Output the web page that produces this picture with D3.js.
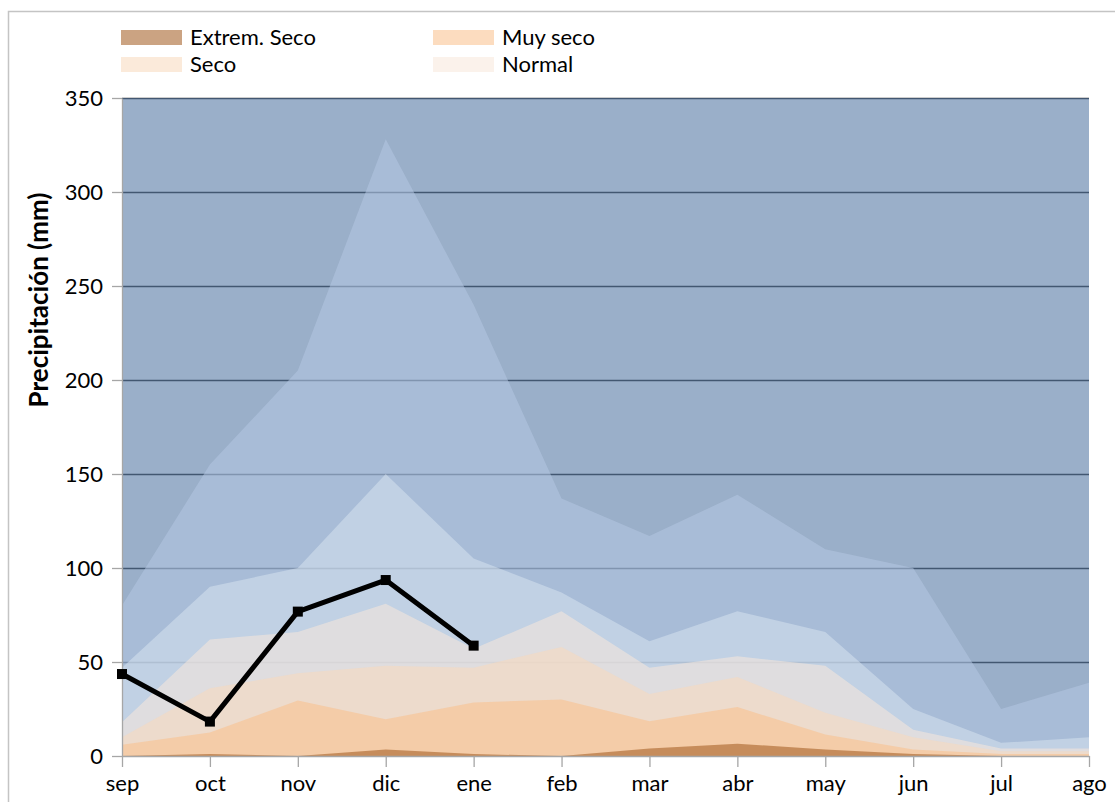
<!DOCTYPE html>
<html>
<head>
  <meta charset="utf-8">
  <title>Precipitación mensual</title>
  <script src="https://d3js.org/d3.v7.min.js"></script>
  <style>
    body { margin: 0; background: #fff; }
    text { font-family: Lato, "Open Sans", sans-serif; fill: #000; }
  </style>
</head>
<body>
  <svg id="chart"></svg>

  <script>
    // meses
    const months = ["sep", "oct", "nov", "dic", "ene", "feb", "mar", "abr", "may", "jun", "jul", "ago"];

    // límites superiores de cada categoría (mm)
    const extremHumedo = [350, 350, 350, 350, 350, 350, 350, 350, 350, 350, 350, 350];
    const muyHumedo    = [80, 155, 205, 328, 240, 137, 117, 139, 110, 100, 25, 39];
    const humedo       = [47, 90, 100, 150, 105, 87, 61, 77, 66, 25, 7, 10];
    const normal       = [18, 62, 66, 81, 57, 77, 47, 53, 48, 14, 4, 4];
    const seco         = [10, 36, 44, 48, 47, 58, 33, 42, 23, 10, 2.5, 2.5];
    const muySeco      = [6, 12.5, 29.5, 19.5, 28.5, 30, 18.5, 26, 11.5, 3.5, 1, 1];
    const extremSeco   = [0, 1, 0, 3.5, 1, 0, 4, 6.5, 3.5, 1, 0, 0];

    // precipitación observada
    const observada = [43.6, 18.3, 76.8, 93.6, 58.7];

    const yTicks = [0, 50, 100, 150, 200, 250, 300, 350];

    const legendItems = [
      { name: "Extrem. Seco", layer: 6 },
      { name: "Muy seco", layer: 5 },
      { name: "Seco", layer: 4 },
      { name: "Normal", layer: 3 }
    ];

    const layers = [extremHumedo, muyHumedo, humedo, normal, seco, muySeco, extremSeco];

    // colores aparentes de cada franja; las capas son semitransparentes
    const alpha = 0.55;
    const bandColors = ["#9aafc9", "#a9bcd6", "#c2d1e4", "#dfdddf", "#ecdacb", "#f3cba8", "#c68b5b"];
    let prev = d3.rgb("#ffffff");
    const fills = bandColors.map(c => {
      const t = d3.rgb(c);
      const f = ch => Math.max(0, Math.min(255, Math.round((t[ch] - (1 - alpha) * prev[ch]) / alpha)));
      const out = d3.rgb(f("r"), f("g"), f("b"));
      prev = t;
      return out.formatHex();
    });

    const width = 1115, height = 802;
    const plotLeft = 122, plotRight = 1089, plotTop = 98, plotBottom = 756;

    const svg = d3.select("#chart")
                  .attr("width", width)
                  .attr("height", height);

    svg.append("rect")
       .attr("width", width).attr("height", height)
       .attr("fill", "#fff");

    // borde del gráfico
    svg.append("rect")
       .attr("x", 8.5).attr("y", 11.5)
       .attr("width", width + 20).attr("height", height + 20)
       .attr("fill", "none")
       .attr("stroke", "#c4c4c4")
       .attr("stroke-width", 1.5);

    const x = d3.scalePoint().domain(months).range([plotLeft, plotRight]);
    const y = d3.scaleLinear().domain([0, 350]).range([plotBottom, plotTop]);

    // líneas de cuadrícula (debajo de las áreas)
    svg.append("g")
       .selectAll("line")
       .data(yTicks.filter(d => d > 0))
       .enter()
       .append("line")
       .attr("x1", plotLeft).attr("x2", plotRight)
       .attr("y1", d => Math.round(y(d)) + 0.5)
       .attr("y2", d => Math.round(y(d)) + 0.5)
       .attr("stroke", "#3c3c3c")
       .attr("stroke-width", 1.3);

    // áreas
    const area = d3.area()
                   .x((d, i) => x(months[i]))
                   .y0(y(0))
                   .y1(d => y(d));

    svg.append("g")
       .selectAll("path")
       .data(layers)
       .enter()
       .append("path")
       .attr("d", area)
       .attr("fill", (d, i) => fills[i])
       .attr("fill-opacity", alpha);

    // ejes
    const yAxis = svg.append("g")
                     .attr("transform", `translate(${plotLeft},0)`)
                     .call(d3.axisLeft(y).tickValues(yTicks).tickSize(10).tickSizeOuter(0).tickPadding(9));
    const xAxis = svg.append("g")
                     .attr("transform", `translate(0,${plotBottom})`)
                     .call(d3.axisBottom(x).tickSize(11).tickSizeOuter(0).tickPadding(8));

    [yAxis, xAxis].forEach(ax => {
      ax.selectAll("path, line").attr("stroke", "#a6a6a6").attr("stroke-width", 1.3);
      ax.selectAll("text").style("font-size", "22px").style("font-family", "Lato").attr("fill", "#000");
    });

    // serie observada
    const line = d3.line()
                   .x((d, i) => x(months[i]))
                   .y(d => y(d));

    svg.append("path")
       .datum(observada)
       .attr("d", line)
       .attr("fill", "none")
       .attr("stroke", "#000")
       .attr("stroke-width", 5)
       .attr("stroke-linejoin", "round");

    svg.append("g")
       .selectAll("rect")
       .data(observada)
       .enter()
       .append("rect")
       .attr("x", (d, i) => x(months[i]) - 5)
       .attr("y", d => y(d) - 5)
       .attr("width", 10)
       .attr("height", 10)
       .attr("fill", "#000");

    // título del eje y
    svg.append("text")
       .attr("transform", "translate(48,300) rotate(-90)")
       .attr("text-anchor", "middle")
       .style("font-size", "26px")
       .style("font-weight", "bold")
       .text("Precipitación (mm)");

    // leyenda
    const legend = svg.append("g")
                      .selectAll("g")
                      .data(legendItems)
                      .enter()
                      .append("g")
                      .attr("transform", (d, i) => `translate(${i % 2 === 0 ? 121 : 433},${i < 2 ? 37 : 64})`);

    legend.append("rect")
          .attr("x", 0).attr("y", -7)
          .attr("width", 61).attr("height", 15)
          .attr("fill", d => fills[d.layer])
          .attr("fill-opacity", alpha);

    legend.append("text")
          .attr("x", 69).attr("y", 0)
          .attr("dy", "0.35em")
          .style("font-size", "22px")
          .text(d => d.name);
  </script>
</body>
</html>
